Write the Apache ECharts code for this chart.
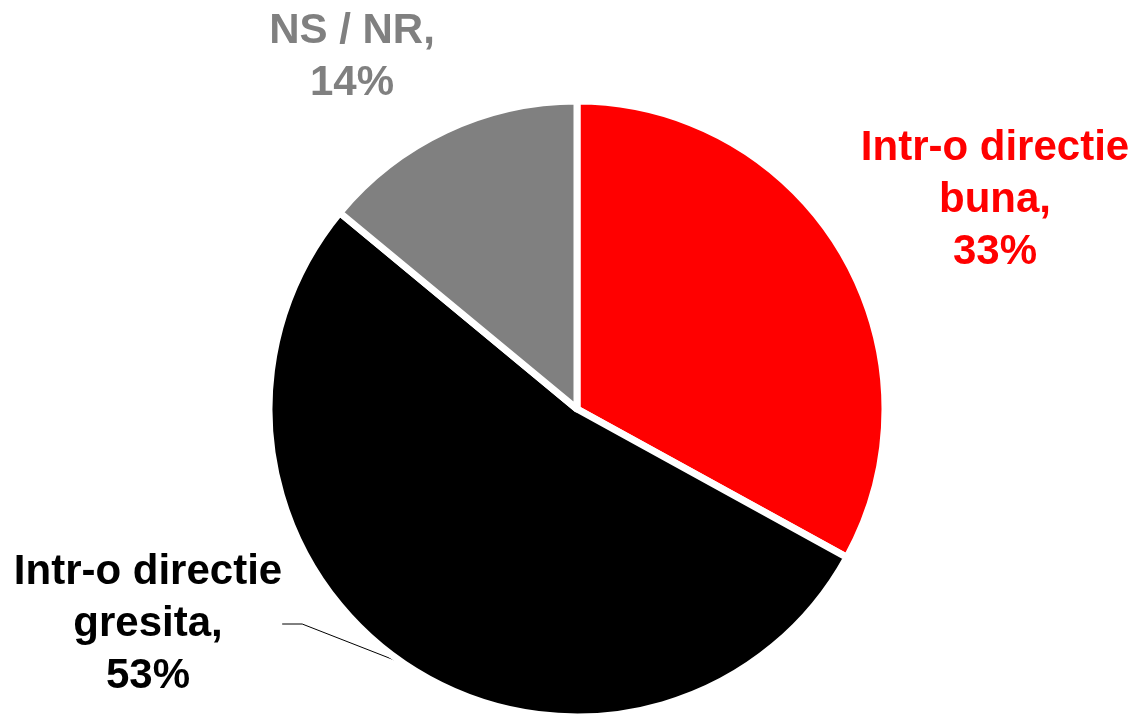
<!DOCTYPE html>
<html>
<head>
<meta charset="utf-8">
<script src="https://cdn.jsdelivr.net/npm/echarts@6/dist/echarts.min.js"></script>
<style>
  html, body { margin: 0; padding: 0; background: #fff; }
  #chart { width: 1135px; height: 718px; }
</style>
</head>
<body>
<div id="chart"></div>
<script>
var categories = ['Intr-o directie\nbuna', 'Intr-o directie\ngresita', 'NS / NR'];
var values = [33, 53, 14];
var colors = ['#ff0000', '#000000', '#808080'];

// label centers
var labelPos = [[995, 200], [148, 624], [352, 57]];

var chart = echarts.init(document.getElementById('chart'));

var seriesData = categories.map(function (name, i) {
    return {
        name: name,
        value: values[i],
        itemStyle: { color: colors[i] },
        label: { color: colors[i] },
        labelLine: { show: i === 1 }
    };
});

var option = {
    animation: false,
    series: [
        {
            type: 'pie',
            center: [577, 409],
            radius: 308,
            startAngle: 90,
            clockwise: true,
            itemStyle: {
                borderColor: '#fff',
                borderWidth: 7
            },
            label: {
                show: true,
                position: 'outside',
                formatter: '{b},\n{c}%',
                fontFamily: 'Liberation Sans, Arial, sans-serif',
                fontWeight: 'bold',
                fontSize: 42,
                lineHeight: 52,
                align: 'center',
                overflow: 'none'
            },
            labelLine: {
                lineStyle: { color: '#000', width: 1 },
                length: 20,
                length2: 20
            },
            labelLayout: function (params) {
                var p = labelPos[params.dataIndex];
                return {
                    x: p[0],
                    y: p[1],
                    align: 'center',
                    verticalAlign: 'middle'
                };
            },
            data: seriesData
        }
    ]
};
chart.setOption(option);
</script>
</body>
</html>
